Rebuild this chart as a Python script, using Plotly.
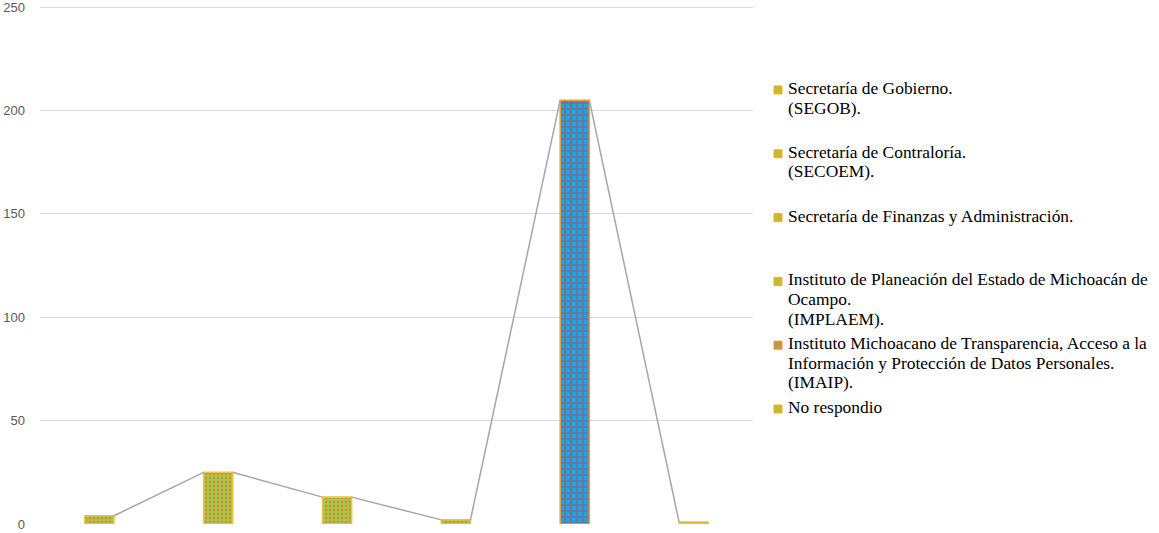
import plotly.graph_objects as go

# ---- data ----
series_names = [
    ["Secretaría de Gobierno.", "(SEGOB)."],
    ["Secretaría de Contraloría.", "(SECOEM)."],
    ["Secretaría de Finanzas y Administración."],
    ["Instituto de Planeación del Estado de Michoacán de", "Ocampo.", "(IMPLAEM)."],
    ["Instituto Michoacano de Transparencia, Acceso a la",
     "Información y Protección de Datos Personales.", "(IMAIP)."],
    ["No respondio"],
]
values = [4, 25, 13, 2, 205, 1]
y_ticks = [0, 50, 100, 150, 200, 250]

# ---- styles ----
W, H = 1159, 533
M_L, M_R, M_T, M_B = 40, 406, 4, 9
dot_pattern = dict(shape=".", bgcolor="#A6CC48", fgcolor="#EC5A2E", size=4, solidity=0.38)
brick_pattern = dict(shape="+", bgcolor="#1AA6E0", fgcolor="#D8323A", size=6, solidity=0.42)
patterns = [dot_pattern, dot_pattern, dot_pattern, dot_pattern, brick_pattern, dot_pattern]
borders = ["#EAC43C", "#EAC43C", "#EAC43C", "#EAC43C", "#EE9E36", "#EAC43C"]
legend_fill = ["#CDB52C", "#CDB52C", "#CDB52C", "#CDB52C", "#B89C48", "#CDB52C"]
legend_line = ["#D8B830", "#D8B830", "#D8B830", "#D8B830", "#EE9036", "#D8B830"]
bar_w = 0.245

plot_w = W - M_L - M_R
plot_h = H - M_T - M_B


def px_x(px):
    return (px - M_L) / plot_w


def px_y(py):
    return (H - M_B - py) / plot_h


fig = go.Figure()
positions = list(range(len(values)))

# series lines connecting bar tops (right edge of one bar to left edge of next)
lx, ly = [], []
for i in range(len(values) - 1):
    lx += [positions[i] + bar_w / 2, positions[i + 1] - bar_w / 2, None]
    ly += [values[i], values[i + 1], None]
fig.add_trace(go.Scatter(x=lx, y=ly, mode="lines", line=dict(color="#A6A6A6", width=1.5),
                         showlegend=False, hoverinfo="skip"))

for i, (name, v) in enumerate(zip(series_names, values)):
    fig.add_trace(go.Bar(
        x=[positions[i]], y=[v], name=" ".join(name), width=bar_w,
        marker=dict(color="#A6CC48", pattern=patterns[i],
                    line=dict(color=borders[i], width=1.5)),
        showlegend=False,
    ))

# ---- legend drawn as text + swatches (Excel-like tight line spacing) ----
first_y, item_pitch, line_pitch = 88, 63.8, 19.6
text_x, sw_x, sw = 786, 778, 8
for i, lines in enumerate(series_names):
    y0 = first_y + i * item_pitch
    fig.add_shape(type="rect", xref="paper", yref="paper",
                  x0=px_x(sw_x - sw / 2), x1=px_x(sw_x + sw / 2),
                  y0=px_y(y0 + 2 - sw / 2), y1=px_y(y0 + 2 + sw / 2),
                  fillcolor=legend_fill[i], line=dict(color=legend_line[i], width=1))
    for j, txt in enumerate(lines):
        fig.add_annotation(text=txt, xref="paper", yref="paper",
                           x=px_x(text_x), y=px_y(y0 + j * line_pitch),
                           xanchor="left", yanchor="middle", showarrow=False,
                           font=dict(family="Liberation Serif", size=17.4, color="#000000"))

fig.update_layout(
    width=W, height=H,
    margin=dict(l=M_L, r=M_R, t=M_T, b=M_B, autoexpand=False),
    paper_bgcolor="white", plot_bgcolor="white",
    barmode="overlay",
    showlegend=False,
    xaxis=dict(range=[-0.5, 5.5], showticklabels=False, showgrid=False,
               zeroline=False, showline=False, ticks=""),
    yaxis=dict(range=[0, 251.5], tickvals=y_ticks, showgrid=True, gridcolor="#D9D9D9",
               gridwidth=1, zeroline=False, showline=False, ticks="",
               ticklabelstandoff=14, ticklabeloverflow="allow",
               tickfont=dict(family="Liberation Sans", size=13, color="#595959")),
)

fig.write_html("out.html", config={"displayModeBar": False},
               post_script="document.body.style.margin='0';document.body.style.overflow='hidden';")
